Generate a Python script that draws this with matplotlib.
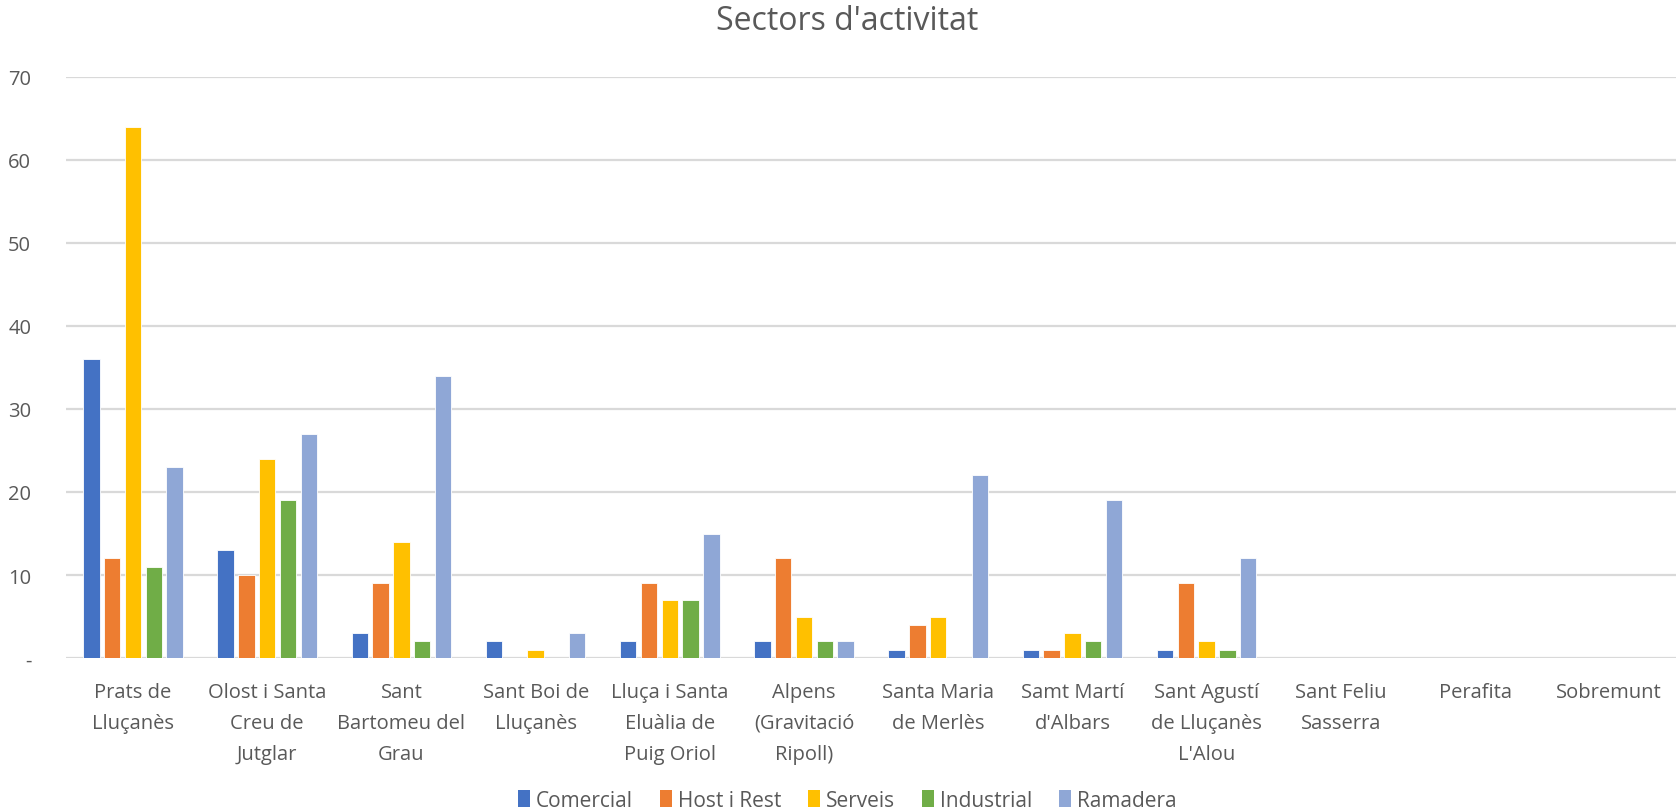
import numpy as np
import matplotlib.pyplot as plt

plt.rcParams["font.family"] = ["Open Sans", "DejaVu Sans"]

GREY = "#595959"
GRID = "#D9D9D9"

pobles = [
    "Prats de\nLluçanès",
    "Olost i Santa\nCreu de\nJutglar",
    "Sant\nBartomeu del\nGrau",
    "Sant Boi de\nLluçanès",
    "Lluça i Santa\nEluàlia de\nPuig Oriol",
    "Alpens\n(Gravitació\nRipoll)",
    "Santa Maria\nde Merlès",
    "Samt Martí\nd'Albars",
    "Sant Agustí\nde Lluçanès\nL'Alou",
    "Sant Feliu\nSasserra",
    "Perafita",
    "Sobremunt",
]

comercial = [36, 13, 3, 2, 2, 2, 1, 1, 1, 0, 0, 0]
host_rest = [12, 10, 9, 0, 9, 12, 4, 1, 9, 0, 0, 0]
serveis = [64, 24, 14, 1, 7, 5, 5, 3, 2, 0, 0, 0]
industrial = [11, 19, 2, 0, 7, 2, 0, 2, 1, 0, 0, 0]
ramadera = [23, 27, 34, 3, 15, 2, 22, 19, 12, 0, 0, 0]

series = [
    ("Comercial", comercial, "#4472C4"),
    ("Host i Rest", host_rest, "#ED7D31"),
    ("Serveis", serveis, "#FFC000"),
    ("Industrial", industrial, "#70AD47"),
    ("Ramadera", ramadera, "#8FA7D6"),
]

fig = plt.figure(figsize=(16.78, 8.12), dpi=100)
ax = fig.add_axes([0.0393, 0.1884, 0.9597, 0.7156])

x = np.arange(len(pobles))
step = 0.155
width = 0.122
for i, (name, vals, col) in enumerate(series):
    vals = np.array(vals, dtype=float)
    pos = x + (i - 2) * step
    keep = vals > 0
    ax.bar(pos[keep], vals[keep], width=width, color=col, edgecolor="white",
           linewidth=0.6, zorder=3)
    # legend proxy
    ax.bar([np.nan], [np.nan], width=width, color=col, label=name)

ax.set_xlim(-0.5, len(pobles) - 0.5)
ax.set_ylim(0, 70)
ax.set_yticks(np.arange(0, 71, 10))
ax.set_yticklabels(["-"] + [str(v) for v in range(10, 71, 10)])
ax.yaxis.grid(True, color=GRID, linewidth=1.6, zorder=0)
ax.set_axisbelow(True)
for s in ax.spines.values():
    s.set_visible(False)
ax.tick_params(axis="both", length=0, colors=GREY, labelsize=14.5)
ax.tick_params(axis="y", pad=25)
ax.tick_params(axis="x", pad=17)
ax.set_xticks(x)
ax.set_xticklabels(pobles, linespacing=1.75, ha="center", va="top")

fig.text(0.505, 0.973, "Sectors d'activitat", ha="center", va="center",
         fontsize=23, color=GREY)

leg = fig.legend(loc="center", bbox_to_anchor=(0.505, 0.013), ncol=5,
                 frameon=False, fontsize=15, handlelength=0.55,
                 handleheight=0.9, handletextpad=0.3, columnspacing=1.3)
for t in leg.get_texts():
    t.set_color(GREY)

fig.savefig("out.png", dpi=100)
